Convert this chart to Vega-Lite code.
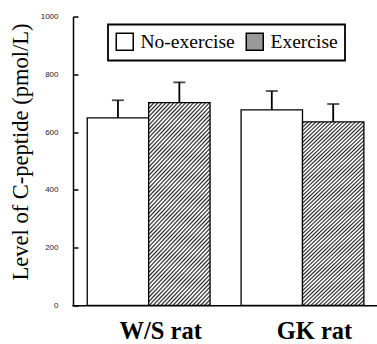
{
  "$schema": "https://vega.github.io/schema/vega-lite/v6.json",
  "width": 304,
  "height": 288.8,
  "autosize": {"type": "none"},
  "padding": {"left": 73, "top": 16.5, "right": 0, "bottom": 38.7},
  "background": "white",
  "config": {"view": {"stroke": null}, "axis": {"grid": false}},
  "data": {
    "values": [
      {"group": "W/S rat", "cond": "No-exercise", "mean": 649, "upper": 710},
      {"group": "W/S rat", "cond": "Exercise", "mean": 702, "upper": 772},
      {"group": "GK rat", "cond": "No-exercise", "mean": 677, "upper": 742},
      {"group": "GK rat", "cond": "Exercise", "mean": 635, "upper": 697}
    ]
  },
  "encoding": {
    "x": {
      "field": "group", "type": "nominal", "sort": ["W/S rat", "GK rat"],
      "scale": {"range": [-1.28, 306.42], "paddingInner": 0.2018, "paddingOuter": 0.1009},
      "axis": {
        "title": null, "domain": true, "domainColor": "black", "domainWidth": 1.5,
        "ticks": false, "labelAngle": 0, "labelFont": "Liberation Serif", "labelFontWeight": "bold",
        "labelFontSize": 24.5, "labelColor": "black", "labelPadding": 14, "labelOffset": 12
      }
    },
    "xOffset": {"field": "cond", "type": "nominal", "sort": ["No-exercise", "Exercise"], "scale": {"paddingInner": 0, "paddingOuter": 0}}
  },
  "layer": [
    {
      "mark": {"type": "bar", "stroke": "black", "strokeWidth": 1.3},
      "encoding": {
        "y": {
          "field": "mean", "type": "quantitative", "stack": null,
          "title": "Level of C-peptide (pmol/L)",
          "scale": {"domain": [0, 1000], "nice": false},
          "axis": {
            "values": [0, 200, 400, 600, 800, 1000], "format": "d",
            "domainColor": "black", "domainWidth": 1.5,
            "tickColor": "black", "tickWidth": 1.5, "tickSize": -5,
            "labelFont": "Liberation Sans", "labelFontSize": 8, "labelColor": "#222", "labelPadding": 20,
            "titleFont": "Liberation Serif", "titleFontSize": 22.5, "titleFontWeight": "normal", "titleColor": "black",
            "titleAngle": -90, "titleX": -46, "titleY": 135, "titleBaseline": "alphabetic", "titleAlign": "center"
          }
        },
        "fill": {
          "field": "cond", "type": "nominal",
          "scale": {"domain": ["No-exercise", "Exercise"], "range": ["white", "#999"]},
          "condition": {
            "test": "datum.cond === 'Exercise'",
            "value": {
              "gradient": "linear", "x1": 0, "y1": 0, "x2": 0.6035, "y2": 1.8787,
              "stops": [
                {"offset":0,"color":"#fff"},{"offset":0.004,"color":"#222"},{"offset":0.008,"color":"#fff"},
                {"offset":0.01,"color":"#fff"},{"offset":0.014,"color":"#222"},{"offset":0.018,"color":"#fff"},
                {"offset":0.02,"color":"#fff"},{"offset":0.024,"color":"#222"},{"offset":0.028,"color":"#fff"},
                {"offset":0.03,"color":"#fff"},{"offset":0.034,"color":"#222"},{"offset":0.038,"color":"#fff"},
                {"offset":0.04,"color":"#fff"},{"offset":0.044,"color":"#222"},{"offset":0.048,"color":"#fff"},
                {"offset":0.05,"color":"#fff"},{"offset":0.054,"color":"#222"},{"offset":0.058,"color":"#fff"},
                {"offset":0.06,"color":"#fff"},{"offset":0.064,"color":"#222"},{"offset":0.068,"color":"#fff"},
                {"offset":0.07,"color":"#fff"},{"offset":0.074,"color":"#222"},{"offset":0.078,"color":"#fff"},
                {"offset":0.08,"color":"#fff"},{"offset":0.084,"color":"#222"},{"offset":0.088,"color":"#fff"},
                {"offset":0.09,"color":"#fff"},{"offset":0.094,"color":"#222"},{"offset":0.098,"color":"#fff"},
                {"offset":0.1,"color":"#fff"},{"offset":0.104,"color":"#222"},{"offset":0.108,"color":"#fff"},
                {"offset":0.11,"color":"#fff"},{"offset":0.114,"color":"#222"},{"offset":0.118,"color":"#fff"},
                {"offset":0.12,"color":"#fff"},{"offset":0.124,"color":"#222"},{"offset":0.128,"color":"#fff"},
                {"offset":0.13,"color":"#fff"},{"offset":0.134,"color":"#222"},{"offset":0.138,"color":"#fff"},
                {"offset":0.14,"color":"#fff"},{"offset":0.144,"color":"#222"},{"offset":0.148,"color":"#fff"},
                {"offset":0.15,"color":"#fff"},{"offset":0.154,"color":"#222"},{"offset":0.158,"color":"#fff"},
                {"offset":0.16,"color":"#fff"},{"offset":0.164,"color":"#222"},{"offset":0.168,"color":"#fff"},
                {"offset":0.17,"color":"#fff"},{"offset":0.174,"color":"#222"},{"offset":0.178,"color":"#fff"},
                {"offset":0.18,"color":"#fff"},{"offset":0.184,"color":"#222"},{"offset":0.188,"color":"#fff"},
                {"offset":0.19,"color":"#fff"},{"offset":0.194,"color":"#222"},{"offset":0.198,"color":"#fff"},
                {"offset":0.2,"color":"#fff"},{"offset":0.204,"color":"#222"},{"offset":0.208,"color":"#fff"},
                {"offset":0.21,"color":"#fff"},{"offset":0.214,"color":"#222"},{"offset":0.218,"color":"#fff"},
                {"offset":0.22,"color":"#fff"},{"offset":0.224,"color":"#222"},{"offset":0.228,"color":"#fff"},
                {"offset":0.23,"color":"#fff"},{"offset":0.234,"color":"#222"},{"offset":0.238,"color":"#fff"},
                {"offset":0.24,"color":"#fff"},{"offset":0.244,"color":"#222"},{"offset":0.248,"color":"#fff"},
                {"offset":0.25,"color":"#fff"},{"offset":0.254,"color":"#222"},{"offset":0.258,"color":"#fff"},
                {"offset":0.26,"color":"#fff"},{"offset":0.264,"color":"#222"},{"offset":0.268,"color":"#fff"},
                {"offset":0.27,"color":"#fff"},{"offset":0.274,"color":"#222"},{"offset":0.278,"color":"#fff"},
                {"offset":0.28,"color":"#fff"},{"offset":0.284,"color":"#222"},{"offset":0.288,"color":"#fff"},
                {"offset":0.29,"color":"#fff"},{"offset":0.294,"color":"#222"},{"offset":0.298,"color":"#fff"},
                {"offset":0.3,"color":"#fff"},{"offset":0.304,"color":"#222"},{"offset":0.308,"color":"#fff"},
                {"offset":0.31,"color":"#fff"},{"offset":0.314,"color":"#222"},{"offset":0.318,"color":"#fff"},
                {"offset":0.32,"color":"#fff"},{"offset":0.324,"color":"#222"},{"offset":0.328,"color":"#fff"},
                {"offset":0.33,"color":"#fff"},{"offset":0.334,"color":"#222"},{"offset":0.338,"color":"#fff"},
                {"offset":0.34,"color":"#fff"},{"offset":0.344,"color":"#222"},{"offset":0.348,"color":"#fff"},
                {"offset":0.35,"color":"#fff"},{"offset":0.354,"color":"#222"},{"offset":0.358,"color":"#fff"},
                {"offset":0.36,"color":"#fff"},{"offset":0.364,"color":"#222"},{"offset":0.368,"color":"#fff"},
                {"offset":0.37,"color":"#fff"},{"offset":0.374,"color":"#222"},{"offset":0.378,"color":"#fff"},
                {"offset":0.38,"color":"#fff"},{"offset":0.384,"color":"#222"},{"offset":0.388,"color":"#fff"},
                {"offset":0.39,"color":"#fff"},{"offset":0.394,"color":"#222"},{"offset":0.398,"color":"#fff"},
                {"offset":0.4,"color":"#fff"},{"offset":0.404,"color":"#222"},{"offset":0.408,"color":"#fff"},
                {"offset":0.41,"color":"#fff"},{"offset":0.414,"color":"#222"},{"offset":0.418,"color":"#fff"},
                {"offset":0.42,"color":"#fff"},{"offset":0.424,"color":"#222"},{"offset":0.428,"color":"#fff"},
                {"offset":0.43,"color":"#fff"},{"offset":0.434,"color":"#222"},{"offset":0.438,"color":"#fff"},
                {"offset":0.44,"color":"#fff"},{"offset":0.444,"color":"#222"},{"offset":0.448,"color":"#fff"},
                {"offset":0.45,"color":"#fff"},{"offset":0.454,"color":"#222"},{"offset":0.458,"color":"#fff"},
                {"offset":0.46,"color":"#fff"},{"offset":0.464,"color":"#222"},{"offset":0.468,"color":"#fff"},
                {"offset":0.47,"color":"#fff"},{"offset":0.474,"color":"#222"},{"offset":0.478,"color":"#fff"},
                {"offset":0.48,"color":"#fff"},{"offset":0.484,"color":"#222"},{"offset":0.488,"color":"#fff"},
                {"offset":0.49,"color":"#fff"},{"offset":0.494,"color":"#222"},{"offset":0.498,"color":"#fff"},
                {"offset":0.5,"color":"#fff"},{"offset":0.504,"color":"#222"},{"offset":0.508,"color":"#fff"},
                {"offset":0.51,"color":"#fff"},{"offset":0.514,"color":"#222"},{"offset":0.518,"color":"#fff"},
                {"offset":0.52,"color":"#fff"},{"offset":0.524,"color":"#222"},{"offset":0.528,"color":"#fff"},
                {"offset":0.53,"color":"#fff"},{"offset":0.534,"color":"#222"},{"offset":0.538,"color":"#fff"},
                {"offset":0.54,"color":"#fff"},{"offset":0.544,"color":"#222"},{"offset":0.548,"color":"#fff"},
                {"offset":0.55,"color":"#fff"},{"offset":0.554,"color":"#222"},{"offset":0.558,"color":"#fff"},
                {"offset":0.56,"color":"#fff"},{"offset":0.564,"color":"#222"},{"offset":0.568,"color":"#fff"},
                {"offset":0.57,"color":"#fff"},{"offset":0.574,"color":"#222"},{"offset":0.578,"color":"#fff"},
                {"offset":0.58,"color":"#fff"},{"offset":0.584,"color":"#222"},{"offset":0.588,"color":"#fff"},
                {"offset":0.59,"color":"#fff"},{"offset":0.594,"color":"#222"},{"offset":0.598,"color":"#fff"},
                {"offset":0.6,"color":"#fff"},{"offset":0.604,"color":"#222"},{"offset":0.608,"color":"#fff"},
                {"offset":0.61,"color":"#fff"},{"offset":0.614,"color":"#222"},{"offset":0.618,"color":"#fff"},
                {"offset":0.62,"color":"#fff"},{"offset":0.624,"color":"#222"},{"offset":0.628,"color":"#fff"},
                {"offset":0.63,"color":"#fff"},{"offset":0.634,"color":"#222"},{"offset":0.638,"color":"#fff"},
                {"offset":0.64,"color":"#fff"},{"offset":0.644,"color":"#222"},{"offset":0.648,"color":"#fff"},
                {"offset":1,"color":"#fff"}
              ]
            }
          },
          "legend": {
            "orient": "none", "legendX": 35, "legendY": 8, "direction": "horizontal", "title": null,
            "symbolType": "square", "symbolSize": 289, "symbolStrokeColor": "black", "symbolStrokeWidth": 1.5,
            "symbolOpacity": 1,
            "labelFont": "Liberation Serif", "labelFontSize": 19.5, "labelColor": "black", "labelOffset": 6,
            "columnPadding": 8, "padding": 7, "strokeColor": "black",
            "encode": {
              "legend": {"update": {"strokeWidth": {"value": 1.8}}}
            }
          }
        }
      }
    },
    {
      "mark": {"type": "rule", "color": "black", "strokeWidth": 1.8},
      "encoding": {
        "y": {"field": "mean", "type": "quantitative", "title": "Level of C-peptide (pmol/L)"},
        "y2": {"field": "upper"}
      }
    },
    {
      "mark": {"type": "tick", "color": "black", "thickness": 1.8, "size": 12},
      "encoding": {
        "y": {"field": "upper", "type": "quantitative", "title": "Level of C-peptide (pmol/L)"}
      }
    }
  ]
}
